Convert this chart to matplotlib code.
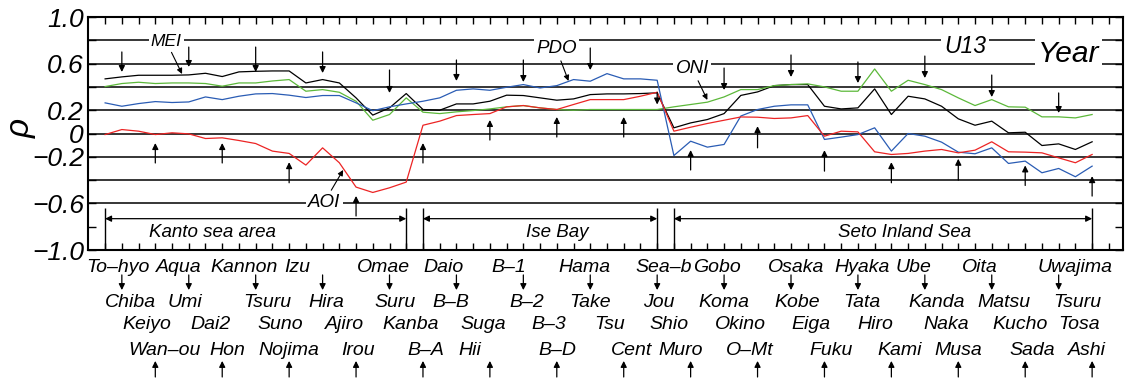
import numpy as np
import matplotlib
matplotlib.use("Agg")
import matplotlib.pyplot as plt

plt.rcParams["font.family"] = ["Liberation Sans", "DejaVu Sans"]
plt.rcParams["font.style"] = "italic"

# correlation coefficient rho at the 60 stations (station order along the coast)
mei = [0.469, 0.486, 0.50, 0.50, 0.50, 0.503, 0.517, 0.489, 0.529, 0.534,
       0.537, 0.537, 0.434, 0.463, 0.434, 0.306, 0.158, 0.22, 0.343, 0.206,
       0.20, 0.254, 0.254, 0.277, 0.329, 0.326, 0.306, 0.286, 0.297, 0.334,
       0.34, 0.34, 0.343, 0.349, 0.049, 0.091, 0.12, 0.171, 0.327, 0.357,
       0.411, 0.42, 0.42, 0.234, 0.211, 0.22, 0.383, 0.163, 0.32, 0.297,
       0.234, 0.126, 0.071, 0.106, 0.006, 0.011, -0.103, -0.089, -0.137, -0.071]
oni = [0.403, 0.429, 0.44, 0.429, 0.434, 0.434, 0.429, 0.406, 0.434, 0.434,
       0.451, 0.463, 0.363, 0.377, 0.354, 0.277, 0.114, 0.163, 0.306, 0.183,
       0.171, 0.186, 0.197, 0.211, 0.229, 0.24, 0.22, 0.206, 0.20, 0.206,
       0.206, 0.206, 0.206, 0.206, 0.229, 0.249, 0.269, 0.314, 0.377, 0.377,
       0.411, 0.42, 0.426, 0.40, 0.363, 0.363, 0.554, 0.363, 0.457, 0.42,
       0.377, 0.306, 0.24, 0.291, 0.229, 0.226, 0.143, 0.143, 0.134, 0.163]
pdo = [0.263, 0.234, 0.257, 0.274, 0.266, 0.271, 0.314, 0.291, 0.32, 0.34,
       0.343, 0.329, 0.309, 0.326, 0.326, 0.263, 0.196, 0.229, 0.254, 0.277,
       0.306, 0.371, 0.383, 0.371, 0.397, 0.42, 0.391, 0.411, 0.463, 0.449,
       0.514, 0.469, 0.469, 0.457, -0.189, -0.066, -0.117, -0.094, 0.15, 0.206,
       0.234, 0.246, 0.246, -0.051, -0.031, -0.009, 0.049, -0.151, 0.0, -0.023,
       -0.074, -0.16, -0.174, -0.123, -0.257, -0.237, -0.337, -0.30, -0.371, -0.28]
aoi = [-0.009, 0.034, 0.02, -0.009, 0.006, -0.003, -0.043, -0.037, -0.06, -0.086,
       -0.151, -0.171, -0.271, -0.123, -0.251, -0.46, -0.506, -0.466, -0.417, 0.071,
       0.106, 0.154, 0.163, 0.171, 0.229, 0.24, 0.22, 0.206, 0.249, 0.291,
       0.291, 0.291, 0.32, 0.354, 0.02, 0.054, 0.086, 0.114, 0.142, 0.14,
       0.129, 0.134, 0.154, -0.023, 0.02, 0.014, -0.157, -0.18, -0.171, -0.151,
       -0.137, -0.166, -0.143, -0.071, -0.157, -0.16, -0.166, -0.209, -0.251, -0.18]

# station names, printed in four staggered rows under the axis
row1 = ["To–hyo", "Aqua", "Kannon", "Izu", "Omae", "Daio", "B–1", "Hama",
        "Sea–b", "Gobo", "Osaka", "Hyaka", "Ube", "Oita", "Uwajima"]
row2 = ["Chiba", "Umi", "Tsuru", "Hira", "Suru", "B–B", "B–2", "Take",
        "Jou", "Koma", "Kobe", "Tata", "Kanda", "Matsu", "Tsuru"]
row3 = ["Keiyo", "Dai2", "Suno", "Ajiro", "Kanba", "Suga", "B–3", "Tsu",
        "Shio", "Okino", "Eiga", "Hiro", "Naka", "Kucho", "Tosa"]
row4 = ["Wan–ou", "Hon", "Nojima", "Irou", "B–A", "Hii", "B–D", "Cent",
        "Muro", "O–Mt", "Fuku", "Kami", "Musa", "Sada", "Ashi"]

# marker arrows above (pointing down) and below (pointing up) the curves
down_st = list(range(1, 60, 4))
down_head = [0.528, 0.571, 0.528, 0.519, 0.348, 0.451, 0.442, 0.545, 0.249,
             0.373, 0.485, 0.433, 0.476, 0.313, 0.176]
down_tail = [0.70, 0.742, 0.742, 0.70, 0.545, 0.631, 0.631, 0.734, 0.354,
             0.562, 0.674, 0.614, 0.665, 0.502, 0.348]
up_st = list(range(3, 60, 4))
up_head = [-0.082, -0.082, -0.246, -0.536, -0.082, 0.116, 0.142, 0.142, -0.142,
           0.063, -0.143, -0.246, -0.217, -0.274, -0.366]
up_tail = [-0.253, -0.253, -0.423, -0.708, -0.253, -0.056, -0.03, -0.03, -0.313,
           -0.123, -0.323, -0.423, -0.40, -0.446, -0.537]

# sea areas: (first station, last station, name)
areas = [(0, 18, "Kanto sea area"), (19, 33, "Ise Bay"), (34, 59, "Seto Inland Sea")]

# label x positions (in station units)
row1_x = [0.78, 4.43, 8.31, 11.48, 16.63, 20.22, 24.10, 28.65, 33.37, 36.60,
          41.33, 45.22, 48.33, 52.27, 57.95]
row2_x = [1.50, 4.78, 9.69, 13.22, 17.34, 20.69, 25.18, 29.01, 33.07, 36.96,
          41.39, 45.22, 49.70, 53.71, 58.13]
row3_x = [2.51, 6.28, 10.47, 14.29, 18.24, 22.61, 26.50, 30.14, 33.73, 37.98,
          42.17, 46.05, 50.30, 54.72, 58.19]
row4_x = [3.53, 7.30, 11.00, 15.13, 19.20, 21.83, 27.03, 31.46, 34.39, 38.52,
          43.42, 47.49, 51.02, 55.44, 58.67]
area_x = [6.4, 27.0, 47.8]

fig = plt.figure(figsize=(11.26, 3.78), dpi=100)
ax = fig.add_axes([0.0782, 0.3386, 0.9192, 0.6164])

st = np.arange(len(mei))
for v in np.arange(-0.6, 0.81, 0.2):
    ax.axhline(v, color="black", lw=1.1, zorder=1)

ax.plot(st, mei, color="black", lw=0.9, zorder=2)
ax.plot(st, oni, color="#5cb83a", lw=0.9, zorder=2)
ax.plot(st, pdo, color="#2a5cb4", lw=0.9, zorder=2)
ax.plot(st, aoi, color="#ec2424", lw=0.9, zorder=2)

arr = dict(arrowstyle="-|>", color="black", lw=0.9, mutation_scale=9,
           shrinkA=0, shrinkB=0)
for s, h, t in zip(down_st, down_head, down_tail):
    ax.annotate("", xy=(s, h), xytext=(s, t), arrowprops=arr)
for s, h, t in zip(up_st, up_head, up_tail):
    ax.annotate("", xy=(s, h), xytext=(s, t), arrowprops=arr)

# sea-area brackets
bounds = [a[0] for a in areas] + [a[1] for a in areas]
ax.vlines(bounds, -1.0, -0.64, color="black", lw=1.0)
for (a, b, name), xt in zip(areas, area_x):
    ax.annotate("", xy=(a, -0.731), xytext=(b, -0.731),
                arrowprops=dict(arrowstyle="<|-|>", color="black", lw=0.9,
                                mutation_scale=9, shrinkA=0, shrinkB=0))
    ax.text(xt, -0.888, name, ha="center", va="baseline", fontsize=13.5)

box = dict(boxstyle="square,pad=0.12", fc="white", ec="none")
small = dict(arrowstyle="-|>", color="black", lw=0.8, mutation_scale=8,
             shrinkA=1, shrinkB=0)
ax.annotate("MEI", xy=(4.6, 0.511), xytext=(3.65, 0.751), ha="center",
            va="baseline", fontsize=12.5, bbox=box, arrowprops=small, zorder=4)
ax.annotate("PDO", xy=(27.7, 0.451), xytext=(26.97, 0.688), ha="center",
            va="baseline", fontsize=13.5, bbox=box, arrowprops=small, zorder=4)
ax.annotate("ONI", xy=(36.0, 0.288), xytext=(35.1, 0.517), ha="center",
            va="baseline", fontsize=13.5, bbox=box, arrowprops=small, zorder=4)
ax.annotate("AOI", xy=(14.23, -0.313), xytext=(13.1, -0.628), ha="center",
            va="baseline", fontsize=13.5, bbox=box, arrowprops=small, zorder=4)
ax.text(51.4, 0.688, "U13", ha="center", va="baseline", fontsize=16.5,
        bbox=dict(boxstyle="square,pad=0.15", fc="white", ec="none"), zorder=4)
ax.text(57.6, 0.616, "Year", ha="center", va="baseline", fontsize=21.5,
        bbox=dict(boxstyle="square,pad=0.1", fc="white", ec="none"), zorder=4)

ax.set_xlim(-1.02, 60.85)
ax.set_ylim(-1.0, 1.0)
ax.set_xticks(range(61))
ax.set_yticks(np.linspace(-1.0, 1.0, 11))
ax.set_yticklabels(["−1.0", "", "−0.6", "", "−0.2", "0", "0.2", "", "0.6", "", "1.0"])
ax.tick_params(axis="x", direction="in", top=True, bottom=True,
               labelbottom=False, length=5, width=1)
ax.tick_params(axis="y", direction="in", left=True, right=True,
               length=6, width=1, labelsize=19, pad=3)
for sp in ax.spines.values():
    sp.set_linewidth(1.5)

fig.text(21 / 1126, 1 - 128 / 378, "ρ", rotation=90, ha="center",
         va="center", fontsize=24)

# station labels under the axis
tr = ax.get_xaxis_transform()
for names, xs, yb in [(row1, row1_x, -0.096), (row2, row2_x, -0.244),
                      (row3, row3_x, -0.340), (row4, row4_x, -0.451)]:
    for n, x in zip(names, xs):
        ax.text(x, yb, n, transform=tr, ha="center", va="baseline",
                fontsize=14, clip_on=False)
for s in down_st:
    ax.annotate("", xy=(s, -0.172), xytext=(s, -0.107), xycoords=tr,
                textcoords=tr, arrowprops=arr, annotation_clip=False)
for s in up_st:
    ax.annotate("", xy=(s, -0.476), xytext=(s, -0.545), xycoords=tr,
                textcoords=tr, arrowprops=arr, annotation_clip=False)

fig.savefig("out.png", dpi=100)
